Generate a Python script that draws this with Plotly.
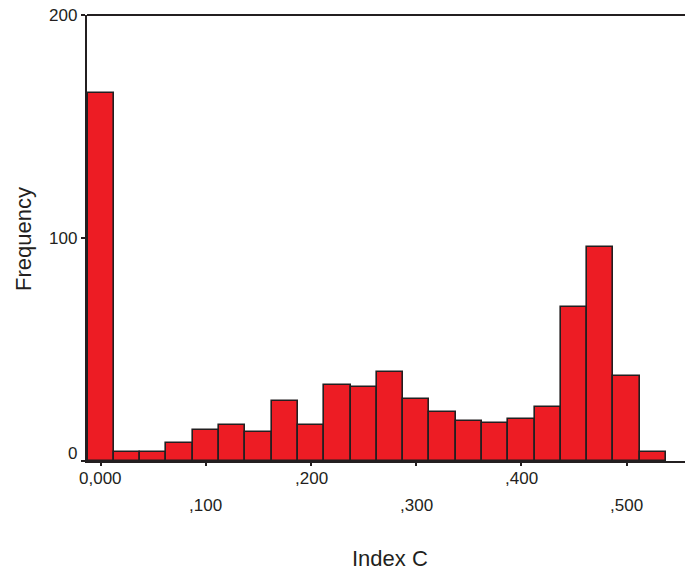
import plotly.graph_objects as go

# Histogram data: bin centers (bin width 0.025) and frequencies
bin_centers = [0.000, 0.025, 0.050, 0.075, 0.100, 0.125, 0.150, 0.175, 0.200, 0.225,
               0.250, 0.275, 0.300, 0.325, 0.350, 0.375, 0.400, 0.425, 0.450, 0.475,
               0.500, 0.525]
frequencies = [165, 4, 4, 8, 14, 16, 13, 27, 16, 34,
               33, 40, 28, 22, 18, 17, 19, 24, 69, 96,
               38, 4]
bin_width = 0.025

x_tick_vals = [0.0, 0.1, 0.2, 0.3, 0.4, 0.5]
x_tick_text = ["0,000", ",100", ",200", ",300", ",400", ",500"]
y_tick_vals = [0, 100, 200]
y_tick_text = ["0", "100", "200"]

ink = "#231f20"
font_family = "Liberation Sans, Arial, Helvetica, sans-serif"

fig = go.Figure()
fig.add_trace(go.Bar(
    x=bin_centers, y=frequencies, width=[bin_width] * len(bin_centers),
    marker=dict(color="#ed1c24", line=dict(color=ink, width=1.6)),
    showlegend=False, hoverinfo="x+y",
))

annotations = []
for i, (v, t) in enumerate(zip(x_tick_vals, x_tick_text)):
    annotations.append(dict(
        x=v, xref="x", y=0, yref="paper", text=t, showarrow=False,
        xanchor="center", yanchor="middle", yshift=-17 if i % 2 == 0 else -44,
        font=dict(size=17, color=ink, family=font_family), borderpad=0,
    ))
for v, t in zip(y_tick_vals, y_tick_text):
    annotations.append(dict(
        x=0, xref="paper", y=v, yref="y", text=t, showarrow=False,
        xanchor="right", yanchor="middle", xshift=-9, yshift=8 if v == 0 else 0,
        font=dict(size=17, color=ink, family=font_family), borderpad=0,
    ))
annotations.append(dict(
    x=(390 - 87) / 598, xref="paper", y=0, yref="paper", text="Index C", showarrow=False,
    xanchor="center", yanchor="middle", yshift=-97, borderpad=0,
    font=dict(size=22, color=ink, family=font_family),
))
annotations.append(dict(
    x=0, xref="paper", y=0.5, yref="paper", text="Frequency", showarrow=False,
    textangle=-90, xanchor="center", yanchor="middle", xshift=-64, yshift=-1,
    borderpad=0, font=dict(size=22, color=ink, family=font_family),
))

fig.update_layout(
    width=685, height=570,
    margin=dict(l=87, r=0, t=15, b=109),
    paper_bgcolor="white", plot_bgcolor="white",
    bargap=0,
    annotations=annotations,
    shapes=[dict(type="line", xref="paper", yref="paper", x0=0, x1=1, y0=1, y1=1,
                 line=dict(color=ink, width=2))],
    xaxis=dict(
        range=[-0.0130, 0.5555], tickvals=x_tick_vals, showticklabels=False,
        ticks="outside", ticklen=3, tickwidth=2, tickcolor=ink,
        showline=True, linecolor=ink, linewidth=2, showgrid=False, zeroline=False,
    ),
    yaxis=dict(
        range=[0, 200], tickvals=y_tick_vals, showticklabels=False,
        ticks="outside", ticklen=4, tickwidth=2, tickcolor=ink,
        showline=True, linecolor=ink, linewidth=2, showgrid=False, zeroline=False,
    ),
)

fig.write_html("out.html", config={"displayModeBar": False},
               post_script="document.body.style.margin='0';")
